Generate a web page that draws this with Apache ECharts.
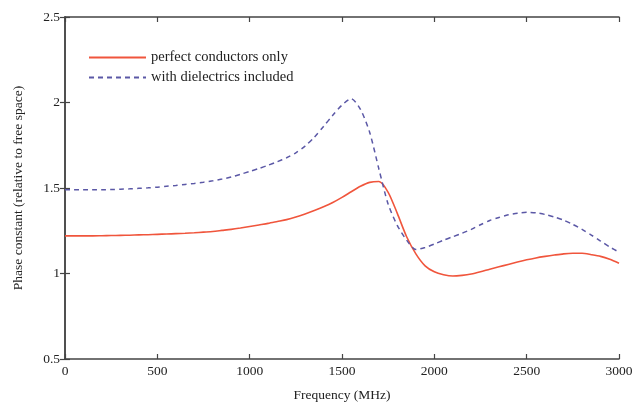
<!DOCTYPE html>
<html>
<head>
<meta charset="utf-8">
<script src="https://cdn.jsdelivr.net/npm/echarts@6/dist/echarts.min.js"></script>
<style>
  html, body { margin: 0; padding: 0; background: #fff; }
  #chart { width: 636px; height: 403px; }
</style>
</head>
<body>
<div id="chart"></div>
<script>
// frequency samples (MHz)
const freqs = [0, 50, 100, 150, 200, 250, 300, 350, 400, 450, 500, 550, 600, 650, 700, 750, 800, 850, 900, 950,
  1000, 1050, 1100, 1150, 1200, 1250, 1300, 1350, 1400, 1450, 1500, 1550, 1600, 1650, 1700, 1750, 1800, 1850, 1900, 1950,
  2000, 2050, 2100, 2150, 2200, 2250, 2300, 2350, 2400, 2450, 2500, 2550, 2600, 2650, 2700, 2750, 2800, 2850, 2900, 2950, 3000]
// perfect conductors only
const conductorsOnly = [1.22, 1.22, 1.22, 1.22, 1.221, 1.222, 1.223, 1.224, 1.226, 1.227, 1.229, 1.231, 1.233, 1.235, 1.238, 1.242, 1.246, 1.252, 1.258, 1.266,
  1.275, 1.284, 1.293, 1.304, 1.315, 1.33, 1.348, 1.368, 1.39, 1.415, 1.445, 1.478, 1.51, 1.533, 1.538, 1.475, 1.35, 1.215, 1.115, 1.045,
  1.01, 0.993, 0.985, 0.989, 0.997, 1.01, 1.025, 1.039, 1.053, 1.067, 1.08, 1.091, 1.1, 1.108, 1.115, 1.118, 1.118, 1.11, 1.1, 1.083, 1.06]
// with dielectrics included
const withDielectrics = [1.49, 1.49, 1.49, 1.49, 1.49, 1.491, 1.493, 1.495, 1.498, 1.501, 1.505, 1.51, 1.515, 1.521, 1.527, 1.534, 1.542, 1.552, 1.564, 1.58,
  1.597, 1.614, 1.633, 1.654, 1.677, 1.706, 1.745, 1.797, 1.86, 1.925, 1.985, 2.022, 1.96, 1.825, 1.61, 1.405, 1.28, 1.195, 1.14, 1.152,
  1.172, 1.195, 1.215, 1.235, 1.258, 1.285, 1.31, 1.328, 1.343, 1.353, 1.358, 1.355, 1.345, 1.33, 1.312, 1.287, 1.258, 1.225, 1.19, 1.155, 1.125]
const seriesNames = ['perfect conductors only', 'with dielectrics included']

const font = 'Liberation Serif'
const axisColor = '#444'
const textColor = '#222'

const chart = echarts.init(document.getElementById('chart'))

const tickCommon = {
  axisLine: { show: true, lineStyle: { color: axisColor, width: 1.5 } },
  axisTick: { show: true, inside: true, length: 5, lineStyle: { color: axisColor, width: 1.2 } },
  splitLine: { show: false }
}
const labelStyle = { fontFamily: font, fontSize: 13.5, color: textColor, margin: 5, formatter: v => String(v) }

chart.setOption({
  backgroundColor: '#fff',
  animation: false,
  grid: { left: 65, right: 17, top: 17, bottom: 44, outerBoundsMode: 'none', containLabel: false },
  legend: {
    orient: 'vertical',
    left: 83,
    top: 45,
    itemWidth: 57,
    itemHeight: 10,
    itemGap: 5,
    itemStyle: { opacity: 0 },
    textStyle: { fontFamily: font, fontSize: 14.5, color: textColor },
    data: seriesNames
  },
  xAxis: [
    {
      type: 'value',
      min: 0,
      max: 3000,
      interval: 500,
      position: 'bottom',
      name: 'Frequency (MHz)',
      nameLocation: 'middle',
      nameGap: 29,
      nameTextStyle: { fontFamily: font, fontSize: 13.5, color: textColor },
      axisLabel: labelStyle,
      ...tickCommon
    },
    {
      type: 'value',
      min: 0,
      max: 3000,
      interval: 500,
      position: 'top',
      axisLabel: { show: false },
      ...tickCommon
    }
  ],
  yAxis: [
    {
      type: 'value',
      min: 0.5,
      max: 2.5,
      interval: 0.5,
      position: 'left',
      name: 'Phase constant (relative to free space)',
      nameLocation: 'middle',
      nameGap: 40,
      nameTextStyle: { fontFamily: font, fontSize: 13.5, color: textColor },
      axisLabel: labelStyle,
      ...tickCommon
    },
    {
      type: 'value',
      min: 0.5,
      max: 2.5,
      interval: 0.5,
      position: 'right',
      axisLabel: { show: false },
      ...tickCommon
    }
  ],
  series: [
    {
      name: seriesNames[0],
      type: 'line',
      smooth: 0.25,
      symbol: 'none',
      color: '#f0553c',
      lineStyle: { width: 1.6, color: '#f0553c' },
      data: freqs.map((f, i) => [f, conductorsOnly[i]])
    },
    {
      name: seriesNames[1],
      type: 'line',
      smooth: 0.25,
      symbol: 'none',
      color: '#5b58a6',
      lineStyle: { width: 1.5, color: '#5b58a6', type: [5, 4] },
      data: freqs.map((f, i) => [f, withDielectrics[i]])
    }
  ]
})
</script>
</body>
</html>
